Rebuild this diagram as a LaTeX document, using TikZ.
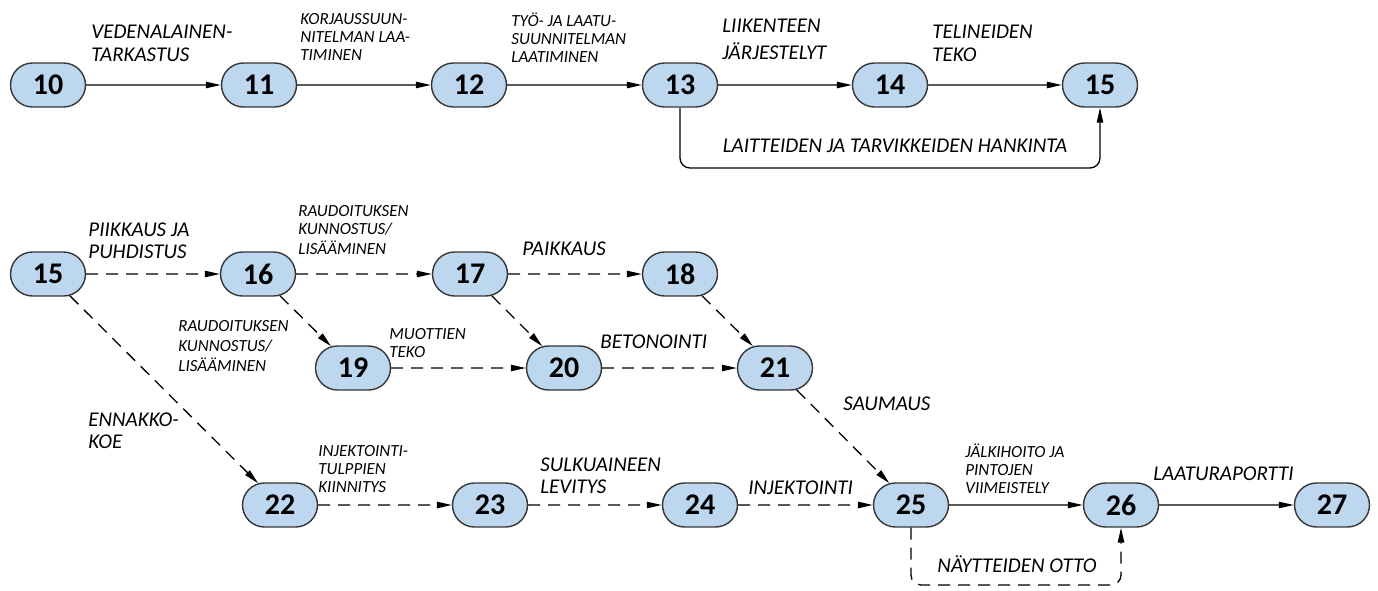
\documentclass[tikz,border=0pt]{standalone}
\usepackage{fontspec}
\setmainfont{Carlito}
\usetikzlibrary{arrows.meta, shapes.misc}

\definecolor{eventblue}{RGB}{189,215,238}
\definecolor{rimgray}{RGB}{55,55,55}

\begin{document}
\begin{tikzpicture}[x=0.5pt, y=-0.5pt,
		event/.style={rounded rectangle, draw=rimgray, fill=eventblue, line width=0.7pt,
			minimum width=37.5pt, minimum height=22pt, inner sep=0pt,
			font=\fontsize{15}{15}\selectfont\bfseries},
		task/.style={-{Triangle[length=7.5pt, width=3.2pt]}, line width=0.65pt},
		dtask/.style={task, dash pattern=on 6pt off 4pt},
		biglbl/.style={inner sep=0pt, align=left, font=\fontsize{10.5}{11.25}\selectfont\itshape},
		smalllbl/.style={inner sep=0pt, align=left, font=\fontsize{8.5}{9}\selectfont\itshape}]
	\useasboundingbox (0,0) rectangle (1378,590);
	
	% --- TOP ROW: PREPARATION ---
	\node[event] (n10) at (48,85) {10};
	\node[event] (n11) at (259,85) {11};
	\node[event] (n12) at (469,85) {12};
	\node[event] (n13) at (680,85) {13};
	\node[event] (n14) at (890,85) {14};
	\node[event] (n15) at (1100,85) {15};
	
	\draw[task] (n10) -- (n11);
	\draw[task] (n11) -- (n12);
	\draw[task] (n12) -- (n13);
	\draw[task] (n13) -- (n14);
	\draw[task] (n14) -- (n15);
	\coordinate (h15) at (1100,168);
	\draw[task, rounded corners=5pt] (n13.south) |- (h15) -- (n15.south);
	
	\node[biglbl, anchor=north west] (l1011) at (91,25) {VEDENALAINEN-\\TARKASTUS};
	\node[smalllbl, anchor=north west] (l1112) at (300,13) {KORJAUSSUUN-\\NITELMAN LAA-\\TIMINEN};
	\node[smalllbl, anchor=north west] (l1213) at (511,12) {TYÖ- JA LAATU-\\SUUNNITELMAN\\LAATIMINEN};
	\node[biglbl, anchor=north west] (l1314) at (722,19) {LIIKENTEEN\\[2pt]JÄRJESTELYT};
	\node[biglbl, anchor=north west] (l1415) at (932,25) {TELINEIDEN\\TEKO};
	\node[biglbl, anchor=base] (l1315) at (895,152) {LAITTEIDEN JA TARVIKKEIDEN HANKINTA};
	
	% --- MIDDLE ROWS: REPAIR ---
	\node[event] (n15b) at (48,274) {15};
	\node[event] (n16) at (258,274) {16};
	\node[event] (n17) at (470,274) {17};
	\node[event] (n18) at (680,274) {18};
	\node[event] (n19) at (353,368) {19};
	\node[event] (n20) at (564,368) {20};
	\node[event] (n21) at (775,368) {21};
	
	\draw[dtask] (n15b) -- (n16);
	\draw[dtask] (n16) -- (n17);
	\draw[dtask] (n17) -- (n18);
	\draw[dtask] (n16) -- (n19);
	\draw[dtask] (n17) -- (n20);
	\draw[dtask] (n18) -- (n21);
	\draw[dtask] (n19) -- (n20);
	\draw[dtask] (n20) -- (n21);
	
	\node[biglbl, anchor=north west] (l1516) at (88,222) {PIIKKAUS JA\\PUHDISTUS};
	\node[smalllbl, anchor=north west] (l1617) at (298,205) {RAUDOITUKSEN\\KUNNOSTUS/\\[1pt]LISÄÄMINEN};
	\node[biglbl, anchor=base west] (l1718) at (522,255) {PAIKKAUS};
	\node[smalllbl, anchor=north west] (l1619) at (178,320) {RAUDOITUKSEN\\[1pt]KUNNOSTUS/\\[1pt]LISÄÄMINEN};
	\node[smalllbl, anchor=north west] (l1920) at (389,328) {MUOTTIEN\\TEKO};
	\node[biglbl, anchor=base west] (l2021) at (600,348) {BETONOINTI};
	
	% --- BOTTOM ROW: INJECTION AND FINISHING ---
	\node[event] (n22) at (280,505) {22};
	\node[event] (n23) at (490,505) {23};
	\node[event] (n24) at (700,505) {24};
	\node[event] (n25) at (911,505) {25};
	\node[event] (n26) at (1121,505) {26};
	\node[event] (n27) at (1332,505) {27};
	
	\draw[dtask] (n15b) -- (n22);
	\draw[dtask] (n21) -- (n25);
	\draw[dtask] (n22) -- (n23);
	\draw[dtask] (n23) -- (n24);
	\draw[dtask] (n24) -- (n25);
	\draw[task] (n25) -- (n26);
	\draw[task] (n26) -- (n27);
	\coordinate (h26) at (1121,585);
	\draw[dtask, rounded corners=5pt] (n25.south) |- (h26) -- (n26.south);
	
	\node[biglbl, anchor=base west] (l2125) at (843,410) {SAUMAUS};
	\node[biglbl, anchor=north west] (l1522) at (88,412) {ENNAKKO-\\KOE};
	\node[smalllbl, anchor=north west] (l2223) at (318,445) {INJEKTOINTI-\\TULPPIEN\\KIINNITYS};
	\node[biglbl, anchor=north west] (l2324) at (540,457) {SULKUAINEEN\\LEVITYS};
	\node[biglbl, anchor=base west] (l2425) at (748,494) {INJEKTOINTI};
	\node[smalllbl, anchor=north west] (l2526) at (965,443) {JÄLKIHOITO JA\\PINTOJEN\\VIIMEISTELY};
	\node[biglbl, anchor=base west] (l2627) at (1153,480) {LAATURAPORTTI};
	\node[biglbl, anchor=base] (l2526b) at (1017,572) {NÄYTTEIDEN OTTO};
\end{tikzpicture}
\end{document}
